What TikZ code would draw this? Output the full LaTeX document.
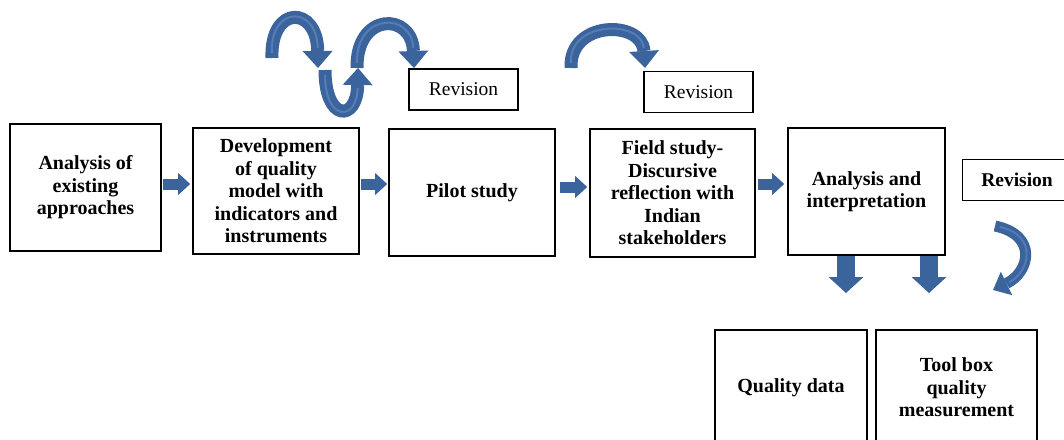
\documentclass[tikz,border=0pt]{standalone}
\usepackage{fontspec}
\setmainfont{Liberation Serif}
\usetikzlibrary{arrows.meta}
\definecolor{arrblue}{RGB}{60,100,156}
\definecolor{arrlight}{RGB}{84,124,182}
\tikzset{
  box/.style={draw=black, line width=1.6pt, fill=white, align=center,
    font=\fontsize{20}{22.5}\selectfont\bfseries, inner sep=2pt},
  revbox/.style={draw=black, line width=1.6pt, fill=white, align=center,
    font=\fontsize{19.5}{22.5}\selectfont, inner sep=2pt,
    minimum width=109pt, minimum height=41pt},
  harrow/.style={draw=arrblue, line width=11pt,
    -{Triangle[width=22pt,length=12pt,line width=0pt]}},
  varrow/.style={draw=arrblue, line width=18pt,
    -{Triangle[width=35pt,length=16pt,line width=0pt]}},
  carrow/.style={draw=arrblue, line width=13pt,
    -{Triangle[width=30pt,length=17pt,line width=0pt]},
    postaction={draw=arrlight, line width=2pt, arrows=-, shorten >=20pt, shorten <=5pt}},
  carrowsmall/.style={draw=arrblue, line width=11pt,
    -{Triangle[width=26pt,length=15pt,line width=0pt]},
    postaction={draw=arrlight, line width=1.8pt, arrows=-, shorten >=18pt, shorten <=5pt}},
}
\begin{document}
\begin{tikzpicture}[x=1pt,y=-1pt]
\useasboundingbox (0,0) rectangle (1064,439);
\clip (0,0) rectangle (1064,439);

% main boxes
\node[box, minimum width=151pt, minimum height=127pt] (a1) at (85.5,187.5)
  {Analysis of\\existing\\approaches};
\node[box, minimum width=166pt, minimum height=126pt] (a2) at (276,191)
  {Development\\of quality\\model with\\indicators and\\instruments};
\node[box, minimum width=166pt, minimum height=127pt] (a3) at (472,192.5)
  {Pilot study};
\node[box, minimum width=165pt, minimum height=128pt] (a4) at (672.5,193)
  {Field study-\\Discursive\\reflection with\\Indian\\stakeholders};
\node[box, minimum width=157pt, minimum height=127pt] (a5) at (866.5,191.5)
  {Analysis and\\interpretation};
\node[box, minimum width=152pt, minimum height=115pt] (q) at (791,387.5)
  {Quality data};
\node[box, minimum width=161pt, minimum height=115pt] (t) at (956.5,387.5)
  {Tool box\\quality\\measurement};

% revision boxes
\node[revbox] (r1) at (463.5,89.5) {Revision};
\node[revbox] (r2) at (698.5,92) {Revision};
\node[revbox, font=\fontsize{19.5}{22.5}\selectfont\bfseries] (r3) at (1017,180) {Revision};

% horizontal block arrows
\coordinate (hy) at (0,184);
\coordinate (hy3) at (0,187);
\draw[harrow, shorten <=1pt, shorten >=2pt] (a1.east |- hy) -- (a2.west |- hy);
\draw[harrow, shorten <=1pt, shorten >=1pt] (a2.east |- hy) -- (a3.west |- hy);
\draw[harrow, shorten <=4pt, shorten >=2pt] (a3.east |- hy3) -- (a4.west |- hy3);
\draw[harrow, shorten <=2pt, shorten >=3pt] (a4.east |- hy) -- (a5.west |- hy);

% downward block arrows
\coordinate (d1) at (846,293);
\coordinate (d2) at (929,293);
\draw[varrow] (a5.south -| d1) -- (d1);
\draw[varrow] (a5.south -| d2) -- (d2);

% curved arrows
\coordinate (c1s) at (272,58);
\coordinate (c1e) at (318,68);
\draw[carrow] (c1s) .. controls (270,5) and (317,5) .. (c1e);
\coordinate (c2s) at (325,70);
\coordinate (c2e) at (358,68);
\draw[carrow] (c2s) .. controls (325,122) and (357,122) .. (c2e);
\coordinate (c3s) at (357,68);
\coordinate (c3e) at (414,68);
\draw[carrow] (c3s) .. controls (356,12) and (412,12) .. (c3e);
\coordinate (c4s) at (571,68);
\coordinate (c4e) at (645,68);
\draw[carrow] (c4s) .. controls (569,20) and (642,20) .. (c4e);
\coordinate (c5s) at (995,226);
\coordinate (c5e) at (993,290);
\draw[carrowsmall] (c5s) .. controls (1038,235) and (1030,272) .. (c5e);
\end{tikzpicture}
\end{document}
